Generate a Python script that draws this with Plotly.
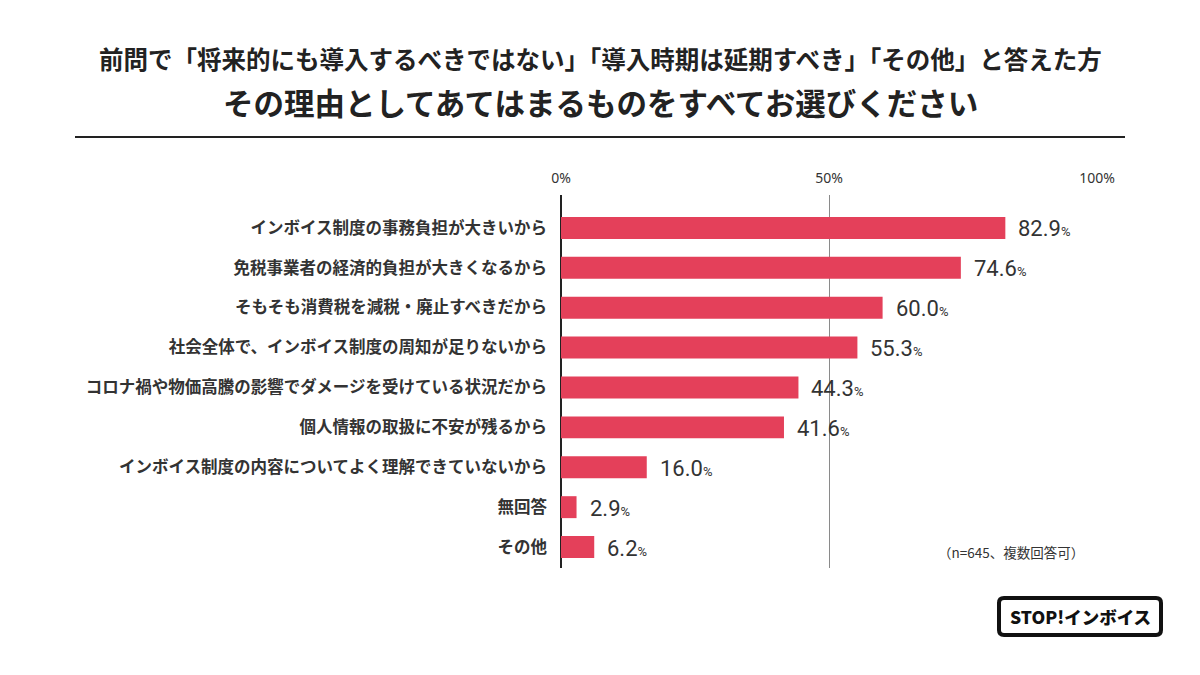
import plotly.graph_objects as go

categories = [
    "インボイス制度の事務負担が大きいから",
    "免税事業者の経済的負担が大きくなるから",
    "そもそも消費税を減税・廃止すべきだから",
    "社会全体で、インボイス制度の周知が足りないから",
    "コロナ禍や物価高騰の影響でダメージを受けている状況だから",
    "個人情報の取扱に不安が残るから",
    "インボイス制度の内容についてよく理解できていないから",
    "無回答",
    "その他",
]
values = [82.9, 74.6, 60.0, 55.3, 44.3, 41.6, 16.0, 2.9, 6.2]
tick_vals = [0, 50, 100]
tick_text = ["0%", "50%", "100%"]

title1 = "前問で「将来的にも導入するべきではない」「導入時期は延期すべき」「その他」と答えた方"
title2 = "その理由としてあてはまるものをすべてお選びください"
note = "（n=645、複数回答可）"
logo = "STOP!インボイス"

JP = "Noto Sans CJK JP"
NUM = "Liberation Sans Narrow, Roboto, sans-serif"

# plot area in pixels
PL, PR, PT, PB = 561, 1097, 195, 568
def px_x(p): return (p - PL) / (PR - PL)
def px_y(p): return (PB - p) / (PB - PT)

fig = go.Figure()
fig.add_trace(go.Bar(
    x=values, y=categories, orientation="h",
    marker=dict(color="#E4405A", line=dict(width=0)),
    width=0.55, hoverinfo="skip",
))

for c, v in zip(categories, values):
    fig.add_annotation(
        x=v, y=c, xref="x", yref="y", xanchor="left", yanchor="middle",
        xshift=11, yshift=-1, showarrow=False,
        text=f"{v:.1f}<span style='font-size:13px'>%</span>",
        font=dict(family=NUM, size=22, color="#333333"),
    )

fig.update_layout(
    width=1200, height=675,
    paper_bgcolor="white", plot_bgcolor="white",
    margin=dict(l=PL, r=1200 - PR, t=PT, b=675 - PB, pad=0),
    showlegend=False,
    font=dict(family=JP, color="#333333"),
)
fig.update_xaxes(
    range=[0, 100], side="top", tickvals=tick_vals, ticktext=tick_text,
    showgrid=True, gridcolor="#8a8a8a", gridwidth=1,
    zeroline=True, zerolinecolor="#222222", zerolinewidth=1.5,
    showline=False, ticks="", ticklabelstandoff=8,
    tickfont=dict(family="Noto Sans", size=14, color="#333333"),
)
fig.update_yaxes(
    categoryorder="array", categoryarray=categories,
    range=[8.525, -0.825], autorange=False,
    showgrid=False, zeroline=False, showline=False, ticks="",
    ticklabelstandoff=13,
    tickfont=dict(family=JP, size=16.5, color="#333333", weight="bold"),
)

# Titles
fig.add_annotation(xref="paper", yref="paper", x=px_x(600), y=px_y(58), text=title1,
                   showarrow=False, xanchor="center", yanchor="middle",
                   font=dict(family=JP, size=24.5, color="#222222", weight="bold"))
fig.add_annotation(xref="paper", yref="paper", x=px_x(600), y=px_y(102), text=title2,
                   showarrow=False, xanchor="center", yanchor="middle",
                   font=dict(family=JP, size=30.5, color="#222222", weight="bold"))
fig.add_shape(type="line", xref="paper", yref="paper",
              x0=px_x(75), x1=px_x(1125), y0=px_y(137), y1=px_y(137),
              line=dict(color="#222222", width=2))

# note
fig.add_annotation(xref="paper", yref="paper", x=px_x(1086), y=px_y(552),
                   text=note, showarrow=False, xanchor="right", yanchor="middle",
                   font=dict(family=JP, size=13.5, color="#333333"))

# logo (rounded rectangle)
lx0, lx1, ly0, ly1 = 999, 1161, 598, 635
r = 5
X = lambda p: f"{px_x(p):.6f}"
Y = lambda p: f"{px_y(p):.6f}"
path = (f"M {X(lx0 + r)} {Y(ly0)} L {X(lx1 - r)} {Y(ly0)} Q {X(lx1)} {Y(ly0)} {X(lx1)} {Y(ly0 + r)} "
        f"L {X(lx1)} {Y(ly1 - r)} Q {X(lx1)} {Y(ly1)} {X(lx1 - r)} {Y(ly1)} "
        f"L {X(lx0 + r)} {Y(ly1)} Q {X(lx0)} {Y(ly1)} {X(lx0)} {Y(ly1 - r)} "
        f"L {X(lx0)} {Y(ly0 + r)} Q {X(lx0)} {Y(ly0)} {X(lx0 + r)} {Y(ly0)} Z")
fig.add_shape(type="path", xref="paper", yref="paper", path=path,
              line=dict(color="#111111", width=4), fillcolor="white")
fig.add_annotation(xref="paper", yref="paper", x=px_x((lx0 + lx1) / 2), y=px_y((ly0 + ly1) / 2),
                   text=logo, showarrow=False, xanchor="center", yanchor="middle",
                   font=dict(family=JP, size=17.5, color="#111111", weight=900))

fig.write_html("out.html", config={"displayModeBar": False},
               post_script="document.body.style.margin='0';")
